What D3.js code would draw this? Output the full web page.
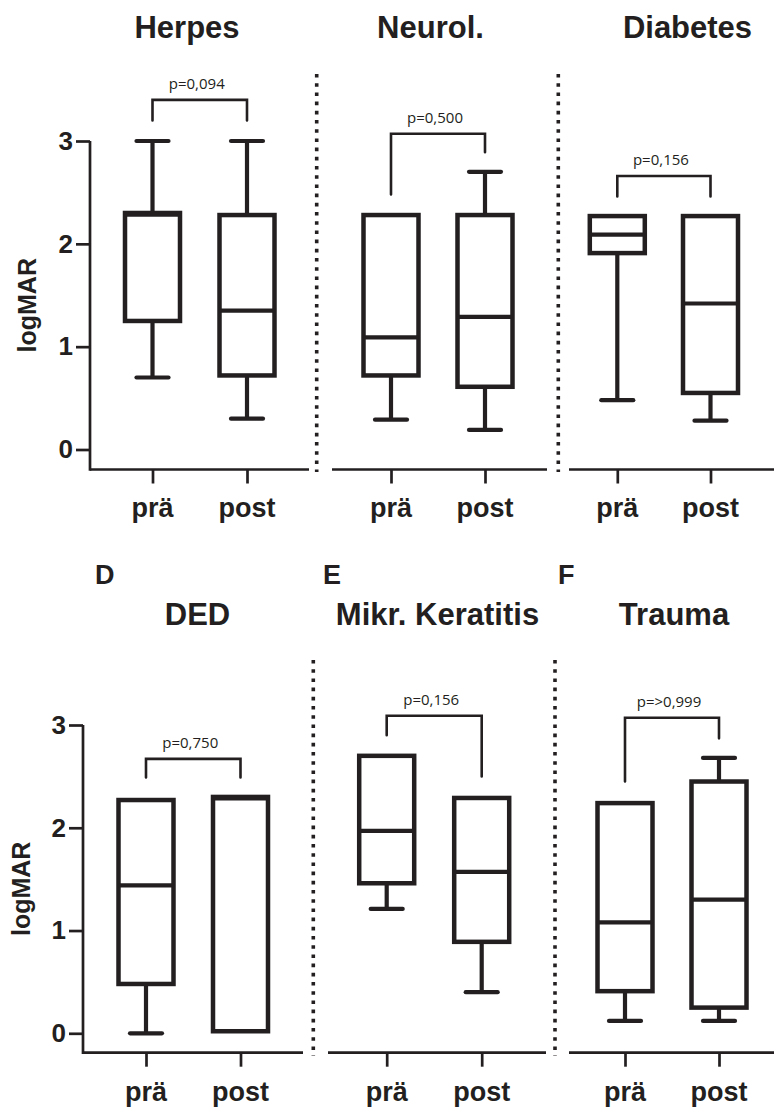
<!DOCTYPE html>
<html><head><meta charset="utf-8">
<script src="https://cdn.jsdelivr.net/npm/d3@7"></script>
<style>body{margin:0;background:#fff} svg{display:block}</style>
</head><body>
<svg id="chart" width="774" height="1108"></svg>
<script>
// ---------- DATA ----------
const groups = ["prä", "post"];
const panelTitles = ["Herpes", "Neurol.", "Diabetes", "DED", "Mikr. Keratitis", "Trauma"];
const panelLetters = ["", "", "", "D", "E", "F"];
const yTickValues = [0, 1, 2, 3];
const yLabel = "logMAR";
const pValues = ["p=0,094", "p=0,500", "p=0,156", "p=0,750", "p=0,156", "p=>0,999"];
// five-number summaries: [min, q1, median, q3, max]
const herpesPre   = [0.70, 1.25, 2.285, 2.30, 3.00];
const herpesPost  = [0.30, 0.72, 1.35, 2.28, 3.00];
const neurolPre   = [0.29, 0.72, 1.09, 2.28, 2.28];
const neurolPost  = [0.19, 0.61, 1.29, 2.28, 2.70];
const diabetesPre = [0.48, 1.91, 2.09, 2.27, 2.27];
const diabetesPost= [0.28, 0.55, 1.42, 2.27, 2.27];
const dedPre      = [0.00, 0.48, 1.44, 2.27, 2.27];
const dedPost     = [0.02, 0.02, 2.285, 2.30, 2.30];
const mikrPre     = [1.21, 1.46, 1.97, 2.70, 2.70];
const mikrPost    = [0.40, 0.89, 1.57, 2.29, 2.29];
const traumaPre   = [0.12, 0.41, 1.08, 2.24, 2.24];
const traumaPost  = [0.12, 0.25, 1.30, 2.45, 2.68];
// significance bracket heights (logMAR units)
const bracketTop     = [3.40, 3.07, 2.66, 2.67, 3.09, 3.07];
const bracketLegPre  = [3.20, 2.48, 2.46, 2.49, 2.90, 2.45];
const bracketLegPost = [3.20, 2.89, 2.46, 2.49, 2.50, 2.87];

const panelData = [
  [herpesPre, herpesPost], [neurolPre, neurolPost], [diabetesPre, diabetesPost],
  [dedPre, dedPost], [mikrPre, mikrPost], [traumaPre, traumaPost]
];

// ---------- LAYOUT ----------
const rows = [
  {y0: 449.5, y3: 141, xAxisY: 469.5, titleY: 37.5, letterY: 0, xLabelY: 517, yLabelX: 36, dotTop: 74, dotBottom: 472},
  {y0: 1033.3, y3: 725, xAxisY: 1052.7, titleY: 625, letterY: 584, xLabelY: 1101, yLabelX: 30, dotTop: 660, dotBottom: 1056}
];
const layout = [
  {row: 0, pre: 152.5, post: 247,   a0: 90,  a1: 309, yAxis: true,  titleX: 187},
  {row: 0, pre: 391,   post: 485,   a0: 332, a1: 547, yAxis: false, titleX: 430.5},
  {row: 0, pre: 617.3, post: 710.5, a0: 569, a1: 774, yAxis: false, titleX: 687.5},
  {row: 1, pre: 146,   post: 240.5, a0: 83,  a1: 303, yAxis: true,  titleX: 197.5, letterX: 95},
  {row: 1, pre: 386.7, post: 481.7, a0: 328, a1: 546, yAxis: false, titleX: 437.5, letterX: 323},
  {row: 1, pre: 625,   post: 719,   a0: 569, a1: 774, yAxis: false, titleX: 674,  letterX: 558}
];
const dotted = [
  {row: 0, x: 316.7}, {row: 0, x: 558.3}, {row: 1, x: 313.3}, {row: 1, x: 555}
];

const INK = "#231f20";
const FONT = "'Liberation Sans', Arial, Helvetica, sans-serif";
const svg = d3.select("#chart");

dotted.forEach(d => {
  const r = rows[d.row];
  svg.append("line").attr("x1", d.x).attr("x2", d.x)
    .attr("y1", r.dotTop).attr("y2", r.dotBottom)
    .attr("stroke", INK).attr("stroke-width", 3.6)
    .attr("stroke-dasharray", "3.6 5.6");
});

layout.forEach((L, i) => {
  const r = rows[L.row];
  const y = d3.scaleLinear().domain([0, 3]).range([r.y0, r.y3]);
  const x = d3.scalePoint().domain(groups).range([L.pre, L.post]);
  const g = svg.append("g");

  // title
  g.append("text").attr("x", L.titleX).attr("y", r.titleY)
    .attr("text-anchor", "middle").attr("font-family", FONT)
    .attr("font-weight", "bold").attr("font-size", 31).attr("fill", INK)
    .text(panelTitles[i]);
  if (panelLetters[i]) {
    g.append("text").attr("x", L.letterX).attr("y", r.letterY)
      .attr("font-family", FONT).attr("font-weight", "bold")
      .attr("font-size", 27).attr("fill", INK).text(panelLetters[i]);
  }

  // x axis
  g.append("line").attr("x1", L.a0).attr("x2", L.a1)
    .attr("y1", r.xAxisY).attr("y2", r.xAxisY)
    .attr("stroke", INK).attr("stroke-width", 2.7);
  const xAxis = d3.axisBottom(x).tickSize(14).tickPadding(0).tickSizeOuter(0);
  const xg = g.append("g").attr("transform", `translate(0,${r.xAxisY})`).call(xAxis);
  xg.select(".domain").remove();
  xg.selectAll(".tick line").attr("stroke", INK).attr("stroke-width", 2.7);
  xg.selectAll(".tick text").remove();
  groups.forEach(k => {
    g.append("text").attr("x", x(k)).attr("y", r.xLabelY)
      .attr("text-anchor", "middle").attr("font-family", FONT)
      .attr("font-weight", "bold").attr("font-size", 27).attr("fill", INK).text(k);
  });

  // y axis
  if (L.yAxis) {
    g.append("line").attr("x1", L.a0).attr("x2", L.a0)
      .attr("y1", y(3)).attr("y2", r.xAxisY + 1.35)
      .attr("stroke", INK).attr("stroke-width", 2.7);
    const yAxis = d3.axisLeft(y).tickValues(yTickValues).tickSize(14).tickPadding(3).tickFormat(d3.format("d"));
    const yg = g.append("g").attr("transform", `translate(${L.a0},0)`).call(yAxis);
    yg.select(".domain").remove();
    yg.selectAll(".tick line").attr("stroke", INK).attr("stroke-width", 2.7);
    yg.selectAll(".tick text").attr("font-family", FONT).attr("font-weight", "bold")
      .attr("font-size", 26).attr("fill", INK);
    const cy = (y(3) + r.xAxisY) / 2 + 0;
    g.append("text").attr("transform", `translate(${r.yLabelX},${cy}) rotate(-90)`)
      .attr("text-anchor", "middle").attr("font-family", FONT)
      .attr("font-weight", "bold").attr("font-size", 25).attr("fill", INK).text(yLabel);
  }

  // boxes
  const bw = 55, cap = 16;
  panelData[i].forEach((s, j) => {
    const cx = x(groups[j]);
    const [mn, q1, md, q3, mx] = s;
    if (mx > q3) {
      g.append("line").attr("x1", cx).attr("x2", cx).attr("y1", y(q3)).attr("y2", y(mx))
        .attr("stroke", INK).attr("stroke-width", 4.2);
      g.append("line").attr("x1", cx - cap).attr("x2", cx + cap).attr("y1", y(mx)).attr("y2", y(mx))
        .attr("stroke", INK).attr("stroke-width", 4.2).attr("stroke-linecap", "round");
    }
    if (mn < q1) {
      g.append("line").attr("x1", cx).attr("x2", cx).attr("y1", y(q1)).attr("y2", y(mn))
        .attr("stroke", INK).attr("stroke-width", 4.2);
      g.append("line").attr("x1", cx - cap).attr("x2", cx + cap).attr("y1", y(mn)).attr("y2", y(mn))
        .attr("stroke", INK).attr("stroke-width", 4.2).attr("stroke-linecap", "round");
    }
    g.append("rect").attr("x", cx - bw / 2).attr("width", bw)
      .attr("y", y(q3)).attr("height", y(q1) - y(q3))
      .attr("fill", "none").attr("stroke", INK).attr("stroke-width", 4.5);
    g.append("line").attr("x1", cx - bw / 2).attr("x2", cx + bw / 2)
      .attr("y1", y(md)).attr("y2", y(md))
      .attr("stroke", INK).attr("stroke-width", 4.2);
  });

  // significance bracket
  const bp = d3.path();
  bp.moveTo(x("prä"), y(bracketLegPre[i]));
  bp.lineTo(x("prä"), y(bracketTop[i]));
  bp.lineTo(x("post"), y(bracketTop[i]));
  bp.lineTo(x("post"), y(bracketLegPost[i]));
  g.append("path").attr("d", bp.toString()).attr("fill", "none")
    .attr("stroke", INK).attr("stroke-width", 2.6).attr("stroke-linecap", "round");
  g.append("text").attr("x", (x("prä") + x("post")) / 2 - 3).attr("y", y(bracketTop[i]) - 11)
    .attr("text-anchor", "middle").attr("font-family", "'Open Sans', sans-serif")
    .attr("font-size", 15).attr("fill", INK).text(pValues[i]);
});
</script>
</body></html>
